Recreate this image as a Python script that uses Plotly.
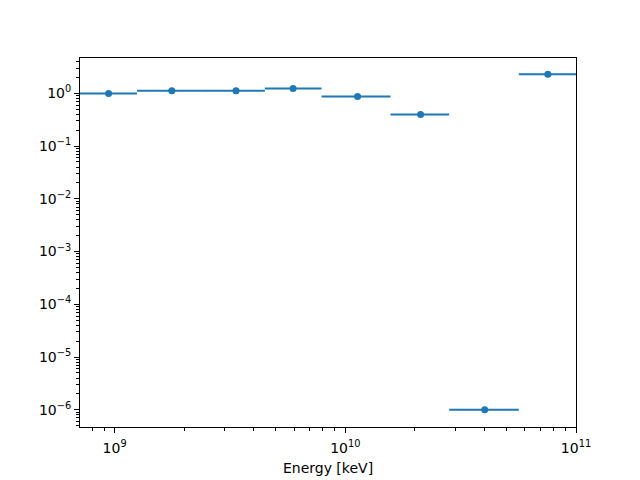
import plotly.graph_objects as go

energy = [9.42e8, 1.77e9, 3.36e9, 5.94e9, 1.13e10, 2.12e10, 4.02e10, 7.55e10]
bin_low = [7.0e8, 1.25e9, 2.37e9, 4.48e9, 7.89e9, 1.57e10, 2.82e10, 5.65e10]
bin_high = [1.25e9, 2.37e9, 4.48e9, 7.89e9, 1.57e10, 2.82e10, 5.65e10, 1.0e11]
flux = [0.99, 1.12, 1.12, 1.23, 0.87, 0.395, 1.0e-6, 2.29]

x_ticks = [1e9, 1e10, 1e11]
x_ticktext = ["10<sup>9</sup>", "10<sup>10</sup>", "10<sup>11</sup>"]
y_ticks = [1e-6, 1e-5, 1e-4, 1e-3, 1e-2, 1e-1, 1e0]
y_ticktext = ["10<sup>−6</sup>", "10<sup>−5</sup>", "10<sup>−4</sup>", "10<sup>−3</sup>",
              "10<sup>−2</sup>", "10<sup>−1</sup>", "10<sup>0</sup>"]

err_plus = [h - e for h, e in zip(bin_high, energy)]
err_minus = [e - l for e, l in zip(energy, bin_low)]

color = "#1f77b4"
fig = go.Figure()
fig.add_trace(go.Scatter(
    x=energy, y=flux, mode="markers",
    marker=dict(color=color, size=7),
    error_x=dict(type="data", symmetric=False, array=err_plus, arrayminus=err_minus,
                 color=color, thickness=2, width=0),
    showlegend=False,
))

x_minor = [m * 10 ** d for d in range(8, 11) for m in range(2, 10)]
y_minor = [m * 10.0 ** d for d in range(-7, 1) for m in range(2, 10)]

axis_common = dict(showline=True, linecolor="black", linewidth=1, mirror=True,
                   ticks="outside", ticklen=5, tickwidth=1, tickcolor="black",
                   showgrid=False, zeroline=False,
                   tickfont=dict(family="DejaVu Sans", size=14, color="black"))

fig.update_xaxes(type="log", range=[8.850, 11.0], tickmode="array",
                 tickvals=x_ticks, ticktext=x_ticktext, ticklabelstandoff=3,
                 minor=dict(tickmode="array", tickvals=x_minor, ticks="outside",
                            ticklen=3, tickwidth=0.8, tickcolor="black", showgrid=False),
                 title=dict(text="Energy [keV]", font=dict(family="DejaVu Sans", size=14, color="black"),
                            standoff=8),
                 **axis_common)
fig.update_yaxes(type="log", range=[-6.326, 0.670], tickmode="array",
                 tickvals=y_ticks, ticktext=y_ticktext,
                 minor=dict(tickmode="array", tickvals=y_minor, ticks="outside",
                            ticklen=3, tickwidth=0.8, tickcolor="black", showgrid=False),
                 **axis_common)

fig.update_layout(width=640, height=480, margin=dict(l=72, r=72, t=50, b=61, pad=0),
                  paper_bgcolor="white", plot_bgcolor="white",
                  font=dict(family="DejaVu Sans", size=14, color="black"))

fig.write_html("out.html")
